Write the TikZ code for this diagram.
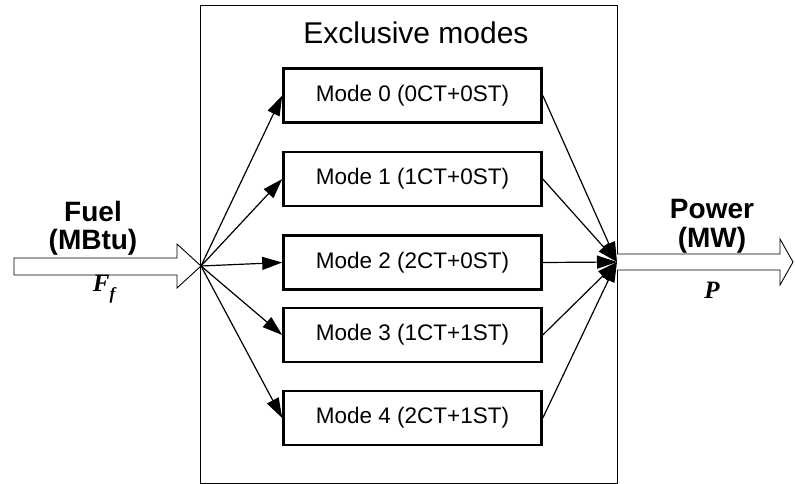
\documentclass[tikz,border=0pt]{standalone}
\usepackage{fontspec}
\setmainfont{Liberation Sans}
\newfontfamily\varfont{Liberation Serif}
\usetikzlibrary{arrows.meta}
\begin{document}
\begin{tikzpicture}[x=1pt,y=-1pt,
  frame/.style={draw, line width=0.9pt, minimum width=417pt, minimum height=478pt, inner sep=0pt},
  modebox/.style={draw, line width=2.6pt, minimum width=258pt, minimum height=54pt, inner sep=0pt,
                  font=\fontsize{22.5}{27}\selectfont},
  flow/.style={line width=1.2pt, -{Triangle[length=20pt,width=13pt]}},
  blockarrow/.style={line width=0.9pt, fill=white, line join=miter},
  quantity/.style={font=\fontsize{28}{30}\selectfont\bfseries, inner sep=0pt},
  symbol/.style={font=\varfont\fontsize{25}{28}\selectfont\bfseries\itshape, inner sep=0pt},
  title/.style={font=\fontsize{30}{34}\selectfont, inner sep=0pt}]
\useasboundingbox (0,0) rectangle (795,484);

% enclosing frame and its heading
\node[frame] (frame) at (408.5,244) {};
\node[title] (heading) at (416,33) {Exclusive modes};

% operating modes
\node[modebox] (m0) at (412.5,95.5) {Mode 0 (0CT+0ST)};
\node[modebox] (m1) at (412.5,179)  {Mode 1 (1CT+0ST)};
\node[modebox] (m2) at (412.5,262.5){Mode 2 (2CT+0ST)};
\node[modebox] (m3) at (412.5,335)  {Mode 3 (1CT+1ST)};
\node[modebox] (m4) at (412.5,418)  {Mode 4 (2CT+1ST)};

% branching and merging points on the frame
\coordinate (fan)  at (201,266);
\coordinate (sink) at (617,262);

% fuel input arrow
\draw[blockarrow] (14,258) -- (177,258) -- (177,244) -- (fan) -- (177,288) -- (177,275) -- (14,275) -- cycle;
\node[quantity] (fuel)  at (93,211) {Fuel};
\node[quantity] (fuelu) at (93,242) {(MBtu)};
\node[symbol]   (ff)    at (104,289) {F\raisebox{-0.3em}{\fontsize{17}{17}\selectfont f}};

% power output arrow
\draw[blockarrow] (617,254) -- (780,254) -- (780,239) -- (793,262) -- (780,285) -- (780,270) -- (617,270);
\node[quantity] (power)  at (712,209) {Power};
\node[quantity] (poweru) at (712,240) {(MW)};
\node[symbol]   (p)      at (712,290) {P};

% distribution to the modes
\foreach \m in {m0,m1,m2,m3,m4}{
  \draw[flow] (fan) -- (\m.west);
  \draw[flow] (\m.east) -- (sink);
}
\end{tikzpicture}
\end{document}
